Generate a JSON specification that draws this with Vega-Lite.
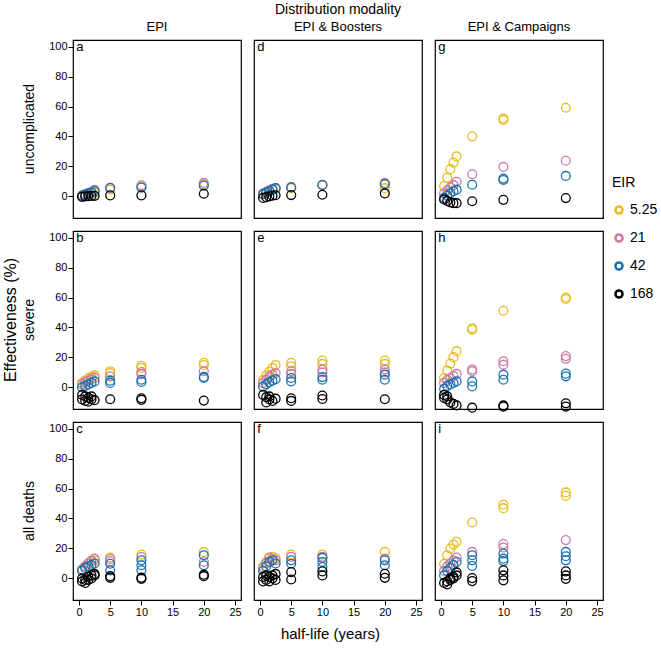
{
  "$schema": "https://vega.github.io/schema/vega-lite/v6.json",
  "background": "white",
  "padding": {"left": 2, "top": 3, "right": 0, "bottom": 0},
  "bounds": "flush",
  "title": {"text": "half-life (years)", "orient": "bottom", "fontSize": 15, "fontWeight": "normal", "font": "Liberation Sans", "color": "black", "anchor": "middle", "offset": 10},
  "data": {"values": [
    {"m":"EPI","o":"uncomplicated","e":"5.25","h":0.5,"v":0.3},{"m":"EPI","o":"uncomplicated","e":"5.25","h":1,"v":0.8},{"m":"EPI","o":"uncomplicated","e":"5.25","h":1.5,"v":1.3},{"m":"EPI","o":"uncomplicated","e":"5.25","h":2,"v":1.8},{"m":"EPI","o":"uncomplicated","e":"5.25","h":2.5,"v":2.3},{"m":"EPI","o":"uncomplicated","e":"5.25","h":5,"v":4.5},{"m":"EPI","o":"uncomplicated","e":"5.25","h":10,"v":6.5},{"m":"EPI","o":"uncomplicated","e":"5.25","h":20,"v":8},
    {"m":"EPI","o":"uncomplicated","e":"21","h":0.5,"v":0.8},{"m":"EPI","o":"uncomplicated","e":"21","h":1,"v":1.5},{"m":"EPI","o":"uncomplicated","e":"21","h":1.5,"v":2.3},{"m":"EPI","o":"uncomplicated","e":"21","h":2,"v":3},{"m":"EPI","o":"uncomplicated","e":"21","h":2.5,"v":4.4},{"m":"EPI","o":"uncomplicated","e":"21","h":5,"v":5.5},{"m":"EPI","o":"uncomplicated","e":"21","h":10,"v":7.4},{"m":"EPI","o":"uncomplicated","e":"21","h":20,"v":9},
    {"m":"EPI","o":"uncomplicated","e":"42","h":0.5,"v":0.5},{"m":"EPI","o":"uncomplicated","e":"42","h":1,"v":1.2},{"m":"EPI","o":"uncomplicated","e":"42","h":1.5,"v":2},{"m":"EPI","o":"uncomplicated","e":"42","h":2,"v":2.5},{"m":"EPI","o":"uncomplicated","e":"42","h":2.5,"v":3.5},{"m":"EPI","o":"uncomplicated","e":"42","h":5,"v":5.8},{"m":"EPI","o":"uncomplicated","e":"42","h":10,"v":5.9},{"m":"EPI","o":"uncomplicated","e":"42","h":20,"v":7.2},
    {"m":"EPI","o":"uncomplicated","e":"168","h":0.5,"v":-0.3},{"m":"EPI","o":"uncomplicated","e":"168","h":1,"v":0},{"m":"EPI","o":"uncomplicated","e":"168","h":1.5,"v":0.2},{"m":"EPI","o":"uncomplicated","e":"168","h":2,"v":0.3},{"m":"EPI","o":"uncomplicated","e":"168","h":2.5,"v":0.4},{"m":"EPI","o":"uncomplicated","e":"168","h":5,"v":0.7},{"m":"EPI","o":"uncomplicated","e":"168","h":10,"v":0.7},{"m":"EPI","o":"uncomplicated","e":"168","h":20,"v":1.8},

    {"m":"EPI & Boosters","o":"uncomplicated","e":"5.25","h":0.5,"v":1.5},{"m":"EPI & Boosters","o":"uncomplicated","e":"5.25","h":1,"v":2.5},{"m":"EPI & Boosters","o":"uncomplicated","e":"5.25","h":1.5,"v":3.5},{"m":"EPI & Boosters","o":"uncomplicated","e":"5.25","h":2,"v":4.5},{"m":"EPI & Boosters","o":"uncomplicated","e":"5.25","h":2.5,"v":5},{"m":"EPI & Boosters","o":"uncomplicated","e":"5.25","h":5,"v":5.5},{"m":"EPI & Boosters","o":"uncomplicated","e":"5.25","h":10,"v":7.5},{"m":"EPI & Boosters","o":"uncomplicated","e":"5.25","h":20,"v":5.5},{"m":"EPI & Boosters","o":"uncomplicated","e":"5.25","h":20,"v":8},
    {"m":"EPI & Boosters","o":"uncomplicated","e":"21","h":0.5,"v":2},{"m":"EPI & Boosters","o":"uncomplicated","e":"21","h":1,"v":3},{"m":"EPI & Boosters","o":"uncomplicated","e":"21","h":1.5,"v":4},{"m":"EPI & Boosters","o":"uncomplicated","e":"21","h":2,"v":5},{"m":"EPI & Boosters","o":"uncomplicated","e":"21","h":2.5,"v":5.5},{"m":"EPI & Boosters","o":"uncomplicated","e":"21","h":5,"v":6.2},{"m":"EPI & Boosters","o":"uncomplicated","e":"21","h":10,"v":7.8},{"m":"EPI & Boosters","o":"uncomplicated","e":"21","h":20,"v":9},
    {"m":"EPI & Boosters","o":"uncomplicated","e":"42","h":0.5,"v":1.5},{"m":"EPI & Boosters","o":"uncomplicated","e":"42","h":1,"v":2.5},{"m":"EPI & Boosters","o":"uncomplicated","e":"42","h":1.5,"v":3.5},{"m":"EPI & Boosters","o":"uncomplicated","e":"42","h":2,"v":4.5},{"m":"EPI & Boosters","o":"uncomplicated","e":"42","h":2.5,"v":5.5},{"m":"EPI & Boosters","o":"uncomplicated","e":"42","h":5,"v":6},{"m":"EPI & Boosters","o":"uncomplicated","e":"42","h":10,"v":7.6},{"m":"EPI & Boosters","o":"uncomplicated","e":"42","h":20,"v":8.3},
    {"m":"EPI & Boosters","o":"uncomplicated","e":"168","h":0.5,"v":-1},{"m":"EPI & Boosters","o":"uncomplicated","e":"168","h":1,"v":-0.5},{"m":"EPI & Boosters","o":"uncomplicated","e":"168","h":1.5,"v":0},{"m":"EPI & Boosters","o":"uncomplicated","e":"168","h":2,"v":0.5},{"m":"EPI & Boosters","o":"uncomplicated","e":"168","h":2.5,"v":0.8},{"m":"EPI & Boosters","o":"uncomplicated","e":"168","h":5,"v":0.9},{"m":"EPI & Boosters","o":"uncomplicated","e":"168","h":10,"v":1.1},{"m":"EPI & Boosters","o":"uncomplicated","e":"168","h":20,"v":2},

    {"m":"EPI & Campaigns","o":"uncomplicated","e":"5.25","h":0.5,"v":6.9},{"m":"EPI & Campaigns","o":"uncomplicated","e":"5.25","h":1,"v":12.5},{"m":"EPI & Campaigns","o":"uncomplicated","e":"5.25","h":1.5,"v":18.2},{"m":"EPI & Campaigns","o":"uncomplicated","e":"5.25","h":2,"v":22.6},{"m":"EPI & Campaigns","o":"uncomplicated","e":"5.25","h":2.5,"v":26.7},{"m":"EPI & Campaigns","o":"uncomplicated","e":"5.25","h":5,"v":40.1},{"m":"EPI & Campaigns","o":"uncomplicated","e":"5.25","h":10,"v":51},{"m":"EPI & Campaigns","o":"uncomplicated","e":"5.25","h":10,"v":52},{"m":"EPI & Campaigns","o":"uncomplicated","e":"5.25","h":20,"v":59.2},
    {"m":"EPI & Campaigns","o":"uncomplicated","e":"21","h":0.5,"v":2},{"m":"EPI & Campaigns","o":"uncomplicated","e":"21","h":1,"v":4},{"m":"EPI & Campaigns","o":"uncomplicated","e":"21","h":1.5,"v":6},{"m":"EPI & Campaigns","o":"uncomplicated","e":"21","h":2,"v":7.5},{"m":"EPI & Campaigns","o":"uncomplicated","e":"21","h":2.5,"v":9.8},{"m":"EPI & Campaigns","o":"uncomplicated","e":"21","h":5,"v":14.8},{"m":"EPI & Campaigns","o":"uncomplicated","e":"21","h":10,"v":19.7},{"m":"EPI & Campaigns","o":"uncomplicated","e":"21","h":20,"v":23.8},
    {"m":"EPI & Campaigns","o":"uncomplicated","e":"42","h":0.5,"v":-1},{"m":"EPI & Campaigns","o":"uncomplicated","e":"42","h":1,"v":0.5},{"m":"EPI & Campaigns","o":"uncomplicated","e":"42","h":1.5,"v":2},{"m":"EPI & Campaigns","o":"uncomplicated","e":"42","h":2,"v":3.5},{"m":"EPI & Campaigns","o":"uncomplicated","e":"42","h":2.5,"v":4.5},{"m":"EPI & Campaigns","o":"uncomplicated","e":"42","h":5,"v":7.8},{"m":"EPI & Campaigns","o":"uncomplicated","e":"42","h":10,"v":11},{"m":"EPI & Campaigns","o":"uncomplicated","e":"42","h":10,"v":11.9},{"m":"EPI & Campaigns","o":"uncomplicated","e":"42","h":20,"v":13.7},
    {"m":"EPI & Campaigns","o":"uncomplicated","e":"168","h":0.5,"v":-2},{"m":"EPI & Campaigns","o":"uncomplicated","e":"168","h":1,"v":-3},{"m":"EPI & Campaigns","o":"uncomplicated","e":"168","h":1.5,"v":-4},{"m":"EPI & Campaigns","o":"uncomplicated","e":"168","h":2,"v":-4.5},{"m":"EPI & Campaigns","o":"uncomplicated","e":"168","h":2.5,"v":-4.5},{"m":"EPI & Campaigns","o":"uncomplicated","e":"168","h":5,"v":-3.2},{"m":"EPI & Campaigns","o":"uncomplicated","e":"168","h":10,"v":-2.3},{"m":"EPI & Campaigns","o":"uncomplicated","e":"168","h":20,"v":-1.1},

    {"m":"EPI","o":"severe","e":"5.25","h":0.5,"v":3},{"m":"EPI","o":"severe","e":"5.25","h":1,"v":4.5},{"m":"EPI","o":"severe","e":"5.25","h":1.5,"v":6},{"m":"EPI","o":"severe","e":"5.25","h":2,"v":7},{"m":"EPI","o":"severe","e":"5.25","h":2.5,"v":8},{"m":"EPI","o":"severe","e":"5.25","h":5,"v":9.5},{"m":"EPI","o":"severe","e":"5.25","h":5,"v":10.8},{"m":"EPI","o":"severe","e":"5.25","h":10,"v":13},{"m":"EPI","o":"severe","e":"5.25","h":10,"v":14.5},{"m":"EPI","o":"severe","e":"5.25","h":20,"v":15},{"m":"EPI","o":"severe","e":"5.25","h":20,"v":16.4},
    {"m":"EPI","o":"severe","e":"21","h":0.5,"v":2},{"m":"EPI","o":"severe","e":"21","h":1,"v":3.5},{"m":"EPI","o":"severe","e":"21","h":1.5,"v":4.5},{"m":"EPI","o":"severe","e":"21","h":2,"v":5.5},{"m":"EPI","o":"severe","e":"21","h":2.5,"v":6.5},{"m":"EPI","o":"severe","e":"21","h":5,"v":7.4},{"m":"EPI","o":"severe","e":"21","h":10,"v":9},{"m":"EPI","o":"severe","e":"21","h":10,"v":10.3},{"m":"EPI","o":"severe","e":"21","h":20,"v":10.8},
    {"m":"EPI","o":"severe","e":"42","h":0.5,"v":0},{"m":"EPI","o":"severe","e":"42","h":1,"v":1},{"m":"EPI","o":"severe","e":"42","h":1.5,"v":2},{"m":"EPI","o":"severe","e":"42","h":2,"v":3},{"m":"EPI","o":"severe","e":"42","h":2.5,"v":4},{"m":"EPI","o":"severe","e":"42","h":5,"v":3},{"m":"EPI","o":"severe","e":"42","h":5,"v":4.5},{"m":"EPI","o":"severe","e":"42","h":10,"v":3.6},{"m":"EPI","o":"severe","e":"42","h":10,"v":5.1},{"m":"EPI","o":"severe","e":"42","h":20,"v":6.3},{"m":"EPI","o":"severe","e":"42","h":20,"v":7},
    {"m":"EPI","o":"severe","e":"168","h":0.5,"v":-5},{"m":"EPI","o":"severe","e":"168","h":1,"v":-6},{"m":"EPI","o":"severe","e":"168","h":1.5,"v":-7},{"m":"EPI","o":"severe","e":"168","h":2,"v":-8},{"m":"EPI","o":"severe","e":"168","h":2.5,"v":-8.5},{"m":"EPI","o":"severe","e":"168","h":0.5,"v":-8},{"m":"EPI","o":"severe","e":"168","h":1,"v":-9},{"m":"EPI","o":"severe","e":"168","h":1.5,"v":-9.5},{"m":"EPI","o":"severe","e":"168","h":2,"v":-6},{"m":"EPI","o":"severe","e":"168","h":5,"v":-7.9},{"m":"EPI","o":"severe","e":"168","h":10,"v":-7.2},{"m":"EPI","o":"severe","e":"168","h":10,"v":-8.3},{"m":"EPI","o":"severe","e":"168","h":20,"v":-8.8},

    {"m":"EPI & Boosters","o":"severe","e":"5.25","h":0.5,"v":5},{"m":"EPI & Boosters","o":"severe","e":"5.25","h":1,"v":8},{"m":"EPI & Boosters","o":"severe","e":"5.25","h":1.5,"v":10.5},{"m":"EPI & Boosters","o":"severe","e":"5.25","h":2,"v":13},{"m":"EPI & Boosters","o":"severe","e":"5.25","h":2.5,"v":15},{"m":"EPI & Boosters","o":"severe","e":"5.25","h":5,"v":14.1},{"m":"EPI & Boosters","o":"severe","e":"5.25","h":5,"v":16.4},{"m":"EPI & Boosters","o":"severe","e":"5.25","h":10,"v":15.7},{"m":"EPI & Boosters","o":"severe","e":"5.25","h":10,"v":17.9},{"m":"EPI & Boosters","o":"severe","e":"5.25","h":20,"v":15.7},{"m":"EPI & Boosters","o":"severe","e":"5.25","h":20,"v":17.9},
    {"m":"EPI & Boosters","o":"severe","e":"21","h":0.5,"v":3},{"m":"EPI & Boosters","o":"severe","e":"21","h":1,"v":5},{"m":"EPI & Boosters","o":"severe","e":"21","h":1.5,"v":7},{"m":"EPI & Boosters","o":"severe","e":"21","h":2,"v":8.5},{"m":"EPI & Boosters","o":"severe","e":"21","h":2.5,"v":9.5},{"m":"EPI & Boosters","o":"severe","e":"21","h":5,"v":9},{"m":"EPI & Boosters","o":"severe","e":"21","h":5,"v":10.8},{"m":"EPI & Boosters","o":"severe","e":"21","h":10,"v":10},{"m":"EPI & Boosters","o":"severe","e":"21","h":10,"v":11.9},{"m":"EPI & Boosters","o":"severe","e":"21","h":20,"v":10},{"m":"EPI & Boosters","o":"severe","e":"21","h":20,"v":11.9},
    {"m":"EPI & Boosters","o":"severe","e":"42","h":0.5,"v":0.5},{"m":"EPI & Boosters","o":"severe","e":"42","h":1,"v":2},{"m":"EPI & Boosters","o":"severe","e":"42","h":1.5,"v":3.5},{"m":"EPI & Boosters","o":"severe","e":"42","h":2,"v":4.5},{"m":"EPI & Boosters","o":"severe","e":"42","h":2.5,"v":5.5},{"m":"EPI & Boosters","o":"severe","e":"42","h":5,"v":4},{"m":"EPI & Boosters","o":"severe","e":"42","h":5,"v":6.3},{"m":"EPI & Boosters","o":"severe","e":"42","h":10,"v":5.1},{"m":"EPI & Boosters","o":"severe","e":"42","h":10,"v":6.9},{"m":"EPI & Boosters","o":"severe","e":"42","h":20,"v":5.1},{"m":"EPI & Boosters","o":"severe","e":"42","h":20,"v":8.5},
    {"m":"EPI & Boosters","o":"severe","e":"168","h":0.5,"v":-5},{"m":"EPI & Boosters","o":"severe","e":"168","h":1,"v":-6.5},{"m":"EPI & Boosters","o":"severe","e":"168","h":1.5,"v":-8},{"m":"EPI & Boosters","o":"severe","e":"168","h":2,"v":-9},{"m":"EPI & Boosters","o":"severe","e":"168","h":2.5,"v":-7.5},{"m":"EPI & Boosters","o":"severe","e":"168","h":1,"v":-10},{"m":"EPI & Boosters","o":"severe","e":"168","h":1.5,"v":-6},{"m":"EPI & Boosters","o":"severe","e":"168","h":5,"v":-7.2},{"m":"EPI & Boosters","o":"severe","e":"168","h":5,"v":-9},{"m":"EPI & Boosters","o":"severe","e":"168","h":10,"v":-5.4},{"m":"EPI & Boosters","o":"severe","e":"168","h":10,"v":-7.7},{"m":"EPI & Boosters","o":"severe","e":"168","h":20,"v":-7.9},

    {"m":"EPI & Campaigns","o":"severe","e":"5.25","h":0.5,"v":6.3},{"m":"EPI & Campaigns","o":"severe","e":"5.25","h":1,"v":11.2},{"m":"EPI & Campaigns","o":"severe","e":"5.25","h":1.5,"v":15.9},{"m":"EPI & Campaigns","o":"severe","e":"5.25","h":2,"v":20.2},{"m":"EPI & Campaigns","o":"severe","e":"5.25","h":2.5,"v":24.2},{"m":"EPI & Campaigns","o":"severe","e":"5.25","h":5,"v":38.6},{"m":"EPI & Campaigns","o":"severe","e":"5.25","h":5,"v":39.5},{"m":"EPI & Campaigns","o":"severe","e":"5.25","h":10,"v":51.2},{"m":"EPI & Campaigns","o":"severe","e":"5.25","h":20,"v":59},{"m":"EPI & Campaigns","o":"severe","e":"5.25","h":20,"v":60},
    {"m":"EPI & Campaigns","o":"severe","e":"21","h":0.5,"v":3},{"m":"EPI & Campaigns","o":"severe","e":"21","h":1,"v":5},{"m":"EPI & Campaigns","o":"severe","e":"21","h":1.5,"v":6},{"m":"EPI & Campaigns","o":"severe","e":"21","h":2,"v":7.5},{"m":"EPI & Campaigns","o":"severe","e":"21","h":2.5,"v":9},{"m":"EPI & Campaigns","o":"severe","e":"21","h":5,"v":10.8},{"m":"EPI & Campaigns","o":"severe","e":"21","h":5,"v":12},{"m":"EPI & Campaigns","o":"severe","e":"21","h":10,"v":15.2},{"m":"EPI & Campaigns","o":"severe","e":"21","h":10,"v":17.5},{"m":"EPI & Campaigns","o":"severe","e":"21","h":20,"v":19.1},{"m":"EPI & Campaigns","o":"severe","e":"21","h":20,"v":20.9},
    {"m":"EPI & Campaigns","o":"severe","e":"42","h":0.5,"v":-1},{"m":"EPI & Campaigns","o":"severe","e":"42","h":1,"v":1},{"m":"EPI & Campaigns","o":"severe","e":"42","h":1.5,"v":2},{"m":"EPI & Campaigns","o":"severe","e":"42","h":2,"v":3},{"m":"EPI & Campaigns","o":"severe","e":"42","h":2.5,"v":4},{"m":"EPI & Campaigns","o":"severe","e":"42","h":5,"v":0.7},{"m":"EPI & Campaigns","o":"severe","e":"42","h":5,"v":4},{"m":"EPI & Campaigns","o":"severe","e":"42","h":10,"v":5.1},{"m":"EPI & Campaigns","o":"severe","e":"42","h":10,"v":8.5},{"m":"EPI & Campaigns","o":"severe","e":"42","h":20,"v":7.4},{"m":"EPI & Campaigns","o":"severe","e":"42","h":20,"v":9.2},
    {"m":"EPI & Campaigns","o":"severe","e":"168","h":0.5,"v":-5},{"m":"EPI & Campaigns","o":"severe","e":"168","h":1,"v":-8},{"m":"EPI & Campaigns","o":"severe","e":"168","h":1.5,"v":-10},{"m":"EPI & Campaigns","o":"severe","e":"168","h":2,"v":-11},{"m":"EPI & Campaigns","o":"severe","e":"168","h":2.5,"v":-12},{"m":"EPI & Campaigns","o":"severe","e":"168","h":0.5,"v":-7},{"m":"EPI & Campaigns","o":"severe","e":"168","h":1,"v":-6},{"m":"EPI & Campaigns","o":"severe","e":"168","h":5,"v":-13.5},{"m":"EPI & Campaigns","o":"severe","e":"168","h":10,"v":-12},{"m":"EPI & Campaigns","o":"severe","e":"168","h":10,"v":-12.8},{"m":"EPI & Campaigns","o":"severe","e":"168","h":20,"v":-10.6},{"m":"EPI & Campaigns","o":"severe","e":"168","h":20,"v":-12.8},

    {"m":"EPI","o":"all deaths","e":"5.25","h":0.5,"v":6},{"m":"EPI","o":"all deaths","e":"5.25","h":1,"v":8},{"m":"EPI","o":"all deaths","e":"5.25","h":1.5,"v":10},{"m":"EPI","o":"all deaths","e":"5.25","h":2,"v":11},{"m":"EPI","o":"all deaths","e":"5.25","h":2.5,"v":12},{"m":"EPI","o":"all deaths","e":"5.25","h":5,"v":13.9},{"m":"EPI","o":"all deaths","e":"5.25","h":10,"v":15.9},{"m":"EPI","o":"all deaths","e":"5.25","h":20,"v":17.7},
    {"m":"EPI","o":"all deaths","e":"21","h":0.5,"v":6},{"m":"EPI","o":"all deaths","e":"21","h":1,"v":8},{"m":"EPI","o":"all deaths","e":"21","h":1.5,"v":10},{"m":"EPI","o":"all deaths","e":"21","h":2,"v":12},{"m":"EPI","o":"all deaths","e":"21","h":2.5,"v":13.2},{"m":"EPI","o":"all deaths","e":"21","h":5,"v":11.4},{"m":"EPI","o":"all deaths","e":"21","h":5,"v":13},{"m":"EPI","o":"all deaths","e":"21","h":10,"v":14.3},{"m":"EPI","o":"all deaths","e":"21","h":20,"v":11},
    {"m":"EPI","o":"all deaths","e":"42","h":0.5,"v":5},{"m":"EPI","o":"all deaths","e":"42","h":1,"v":7},{"m":"EPI","o":"all deaths","e":"42","h":1.5,"v":8},{"m":"EPI","o":"all deaths","e":"42","h":2,"v":9},{"m":"EPI","o":"all deaths","e":"42","h":2.5,"v":10},{"m":"EPI","o":"all deaths","e":"42","h":5,"v":5.4},{"m":"EPI","o":"all deaths","e":"42","h":5,"v":9.8},{"m":"EPI","o":"all deaths","e":"42","h":10,"v":5.4},{"m":"EPI","o":"all deaths","e":"42","h":10,"v":8.8},{"m":"EPI","o":"all deaths","e":"42","h":10,"v":12.1},{"m":"EPI","o":"all deaths","e":"42","h":20,"v":8.8},{"m":"EPI","o":"all deaths","e":"42","h":20,"v":15.5},
    {"m":"EPI","o":"all deaths","e":"168","h":0.5,"v":-2},{"m":"EPI","o":"all deaths","e":"168","h":1,"v":-3},{"m":"EPI","o":"all deaths","e":"168","h":1.5,"v":-1},{"m":"EPI","o":"all deaths","e":"168","h":2,"v":0},{"m":"EPI","o":"all deaths","e":"168","h":2.5,"v":2},{"m":"EPI","o":"all deaths","e":"168","h":0.5,"v":0},{"m":"EPI","o":"all deaths","e":"168","h":1,"v":-1},{"m":"EPI","o":"all deaths","e":"168","h":1.5,"v":1},{"m":"EPI","o":"all deaths","e":"168","h":2,"v":2},{"m":"EPI","o":"all deaths","e":"168","h":2.5,"v":3},{"m":"EPI","o":"all deaths","e":"168","h":5,"v":0.4},{"m":"EPI","o":"all deaths","e":"168","h":5,"v":1.5},{"m":"EPI","o":"all deaths","e":"168","h":10,"v":-0.3},{"m":"EPI","o":"all deaths","e":"168","h":10,"v":0.5},{"m":"EPI","o":"all deaths","e":"168","h":20,"v":1.5},{"m":"EPI","o":"all deaths","e":"168","h":20,"v":2.5},

    {"m":"EPI & Boosters","o":"all deaths","e":"5.25","h":0.5,"v":8},{"m":"EPI & Boosters","o":"all deaths","e":"5.25","h":1,"v":11},{"m":"EPI & Boosters","o":"all deaths","e":"5.25","h":1.5,"v":13.5},{"m":"EPI & Boosters","o":"all deaths","e":"5.25","h":2,"v":14.5},{"m":"EPI & Boosters","o":"all deaths","e":"5.25","h":2.5,"v":13.5},{"m":"EPI & Boosters","o":"all deaths","e":"5.25","h":5,"v":15.9},{"m":"EPI & Boosters","o":"all deaths","e":"5.25","h":10,"v":15.9},{"m":"EPI & Boosters","o":"all deaths","e":"5.25","h":20,"v":17.7},
    {"m":"EPI & Boosters","o":"all deaths","e":"21","h":0.5,"v":7},{"m":"EPI & Boosters","o":"all deaths","e":"21","h":1,"v":10},{"m":"EPI & Boosters","o":"all deaths","e":"21","h":1.5,"v":14},{"m":"EPI & Boosters","o":"all deaths","e":"21","h":2,"v":13},{"m":"EPI & Boosters","o":"all deaths","e":"21","h":2.5,"v":12},{"m":"EPI & Boosters","o":"all deaths","e":"21","h":5,"v":14.5},{"m":"EPI & Boosters","o":"all deaths","e":"21","h":10,"v":14.5},{"m":"EPI & Boosters","o":"all deaths","e":"21","h":20,"v":13.2},
    {"m":"EPI & Boosters","o":"all deaths","e":"42","h":0.5,"v":5},{"m":"EPI & Boosters","o":"all deaths","e":"42","h":1,"v":8},{"m":"EPI & Boosters","o":"all deaths","e":"42","h":1.5,"v":11},{"m":"EPI & Boosters","o":"all deaths","e":"42","h":2,"v":12},{"m":"EPI & Boosters","o":"all deaths","e":"42","h":2.5,"v":10},{"m":"EPI & Boosters","o":"all deaths","e":"42","h":5,"v":9.8},{"m":"EPI & Boosters","o":"all deaths","e":"42","h":5,"v":12.1},{"m":"EPI & Boosters","o":"all deaths","e":"42","h":10,"v":7.6},{"m":"EPI & Boosters","o":"all deaths","e":"42","h":10,"v":11},{"m":"EPI & Boosters","o":"all deaths","e":"42","h":10,"v":13.7},{"m":"EPI & Boosters","o":"all deaths","e":"42","h":20,"v":8.8},{"m":"EPI & Boosters","o":"all deaths","e":"42","h":20,"v":12.1},
    {"m":"EPI & Boosters","o":"all deaths","e":"168","h":0.5,"v":-2},{"m":"EPI & Boosters","o":"all deaths","e":"168","h":1,"v":-1},{"m":"EPI & Boosters","o":"all deaths","e":"168","h":1.5,"v":1},{"m":"EPI & Boosters","o":"all deaths","e":"168","h":2,"v":2},{"m":"EPI & Boosters","o":"all deaths","e":"168","h":2.5,"v":3},{"m":"EPI & Boosters","o":"all deaths","e":"168","h":0.5,"v":1},{"m":"EPI & Boosters","o":"all deaths","e":"168","h":1,"v":2},{"m":"EPI & Boosters","o":"all deaths","e":"168","h":1.5,"v":-2},{"m":"EPI & Boosters","o":"all deaths","e":"168","h":2,"v":0},{"m":"EPI & Boosters","o":"all deaths","e":"168","h":2.5,"v":-1},{"m":"EPI & Boosters","o":"all deaths","e":"168","h":5,"v":-0.7},{"m":"EPI & Boosters","o":"all deaths","e":"168","h":5,"v":4.2},{"m":"EPI & Boosters","o":"all deaths","e":"168","h":10,"v":2},{"m":"EPI & Boosters","o":"all deaths","e":"168","h":10,"v":4.7},{"m":"EPI & Boosters","o":"all deaths","e":"168","h":20,"v":0.4},{"m":"EPI & Boosters","o":"all deaths","e":"168","h":20,"v":3.1},

    {"m":"EPI & Campaigns","o":"all deaths","e":"5.25","h":0.5,"v":9.8},{"m":"EPI & Campaigns","o":"all deaths","e":"5.25","h":1,"v":15.5},{"m":"EPI & Campaigns","o":"all deaths","e":"5.25","h":1.5,"v":19.9},{"m":"EPI & Campaigns","o":"all deaths","e":"5.25","h":2,"v":22.6},{"m":"EPI & Campaigns","o":"all deaths","e":"5.25","h":2.5,"v":24.4},{"m":"EPI & Campaigns","o":"all deaths","e":"5.25","h":5,"v":37.4},{"m":"EPI & Campaigns","o":"all deaths","e":"5.25","h":10,"v":46.9},{"m":"EPI & Campaigns","o":"all deaths","e":"5.25","h":10,"v":49.2},{"m":"EPI & Campaigns","o":"all deaths","e":"5.25","h":20,"v":55.2},{"m":"EPI & Campaigns","o":"all deaths","e":"5.25","h":20,"v":57.4},
    {"m":"EPI & Campaigns","o":"all deaths","e":"21","h":0.5,"v":5},{"m":"EPI & Campaigns","o":"all deaths","e":"21","h":1,"v":8},{"m":"EPI & Campaigns","o":"all deaths","e":"21","h":1.5,"v":10},{"m":"EPI & Campaigns","o":"all deaths","e":"21","h":2,"v":12},{"m":"EPI & Campaigns","o":"all deaths","e":"21","h":2.5,"v":14},{"m":"EPI & Campaigns","o":"all deaths","e":"21","h":5,"v":17.7},{"m":"EPI & Campaigns","o":"all deaths","e":"21","h":10,"v":20.6},{"m":"EPI & Campaigns","o":"all deaths","e":"21","h":10,"v":22.9},{"m":"EPI & Campaigns","o":"all deaths","e":"21","h":20,"v":25.6},
    {"m":"EPI & Campaigns","o":"all deaths","e":"42","h":0.5,"v":2},{"m":"EPI & Campaigns","o":"all deaths","e":"42","h":1,"v":5},{"m":"EPI & Campaigns","o":"all deaths","e":"42","h":1.5,"v":7},{"m":"EPI & Campaigns","o":"all deaths","e":"42","h":2,"v":9},{"m":"EPI & Campaigns","o":"all deaths","e":"42","h":2.5,"v":11},{"m":"EPI & Campaigns","o":"all deaths","e":"42","h":5,"v":8.3},{"m":"EPI & Campaigns","o":"all deaths","e":"42","h":5,"v":12.1},{"m":"EPI & Campaigns","o":"all deaths","e":"42","h":5,"v":15.5},{"m":"EPI & Campaigns","o":"all deaths","e":"42","h":10,"v":11.6},{"m":"EPI & Campaigns","o":"all deaths","e":"42","h":10,"v":13.2},{"m":"EPI & Campaigns","o":"all deaths","e":"42","h":10,"v":16.6},{"m":"EPI & Campaigns","o":"all deaths","e":"42","h":20,"v":12.1},{"m":"EPI & Campaigns","o":"all deaths","e":"42","h":20,"v":14.8},{"m":"EPI & Campaigns","o":"all deaths","e":"42","h":20,"v":17.7},
    {"m":"EPI & Campaigns","o":"all deaths","e":"168","h":0.5,"v":-3},{"m":"EPI & Campaigns","o":"all deaths","e":"168","h":1,"v":-2},{"m":"EPI & Campaigns","o":"all deaths","e":"168","h":1.5,"v":0},{"m":"EPI & Campaigns","o":"all deaths","e":"168","h":2,"v":1},{"m":"EPI & Campaigns","o":"all deaths","e":"168","h":2.5,"v":2},{"m":"EPI & Campaigns","o":"all deaths","e":"168","h":1,"v":-4},{"m":"EPI & Campaigns","o":"all deaths","e":"168","h":1.5,"v":-1},{"m":"EPI & Campaigns","o":"all deaths","e":"168","h":2,"v":0},{"m":"EPI & Campaigns","o":"all deaths","e":"168","h":2.5,"v":4},{"m":"EPI & Campaigns","o":"all deaths","e":"168","h":5,"v":-1.8},{"m":"EPI & Campaigns","o":"all deaths","e":"168","h":5,"v":0.2},{"m":"EPI & Campaigns","o":"all deaths","e":"168","h":10,"v":-1.3},{"m":"EPI & Campaigns","o":"all deaths","e":"168","h":10,"v":2},{"m":"EPI & Campaigns","o":"all deaths","e":"168","h":10,"v":5.4},{"m":"EPI & Campaigns","o":"all deaths","e":"168","h":20,"v":-0.3},{"m":"EPI & Campaigns","o":"all deaths","e":"168","h":20,"v":2},{"m":"EPI & Campaigns","o":"all deaths","e":"168","h":20,"v":4.7},

    {"m":"EPI","o":"uncomplicated","l":"a"},{"m":"EPI","o":"severe","l":"b"},{"m":"EPI","o":"all deaths","l":"c"},
    {"m":"EPI & Boosters","o":"uncomplicated","l":"d"},{"m":"EPI & Boosters","o":"severe","l":"e"},{"m":"EPI & Boosters","o":"all deaths","l":"f"},
    {"m":"EPI & Campaigns","o":"uncomplicated","l":"g"},{"m":"EPI & Campaigns","o":"severe","l":"h"},{"m":"EPI & Campaigns","o":"all deaths","l":"i"}
  ]},
  "facet": {
    "row": {"field": "o", "type": "nominal", "sort": ["uncomplicated", "severe", "all deaths"],
      "header": {"title": "Effectiveness (%)", "titleFontSize": 16, "titleFontWeight": "normal", "titleColor": "black", "titlePadding": -7, "labelFontSize": 14, "labelColor": "black", "labelAngle": -90, "labelOrient": "left", "labelPadding": 5}},
    "column": {"field": "m", "type": "nominal", "sort": ["EPI", "EPI & Boosters", "EPI & Campaigns"],
      "header": {"title": "Distribution modality", "titleFontSize": 14, "titleFontWeight": "normal", "titleColor": "black", "titlePadding": -6, "labelFontSize": 13, "labelColor": "black", "labelPadding": 6}}
  },
  "spacing": {"row": 13, "column": 13},
  "spec": {
    "width": 168,
    "height": 178,
    "layer": [
      {
        "transform": [{"filter": "datum.e != null"}],
        "mark": {"type": "point", "shape": "circle", "filled": false, "size": 78, "strokeWidth": 1.3, "opacity": 1},
        "encoding": {
          "x": {"field": "h", "type": "quantitative", "scale": {"domain": [-0.96, 25.96], "nice": false, "zero": false}, "axis": {"values": [0, 5, 10, 15, 20, 25], "tickCount": 6, "title": null, "labelOverlap": false, "labelFlush": false}},
          "y": {"field": "v", "type": "quantitative", "scale": {"domain": [-14.4, 104.4], "nice": false, "zero": false}, "axis": {"values": [0, 20, 40, 60, 80, 100], "tickCount": 6, "title": null, "labelOverlap": false, "labelFlush": false}},
          "color": {"field": "e", "type": "nominal", "sort": ["5.25", "21", "42", "168"],
            "scale": {"domain": ["5.25", "21", "42", "168"], "range": ["#E7BC1C", "#CC79A7", "#1A73AE", "#000000"]},
            "legend": {"title": "EIR", "orient": "none", "legendX": 539, "legendY": 136, "titleFontSize": 14, "titleFontWeight": "normal", "titleColor": "black", "labelFontSize": 14, "labelColor": "black", "symbolStrokeWidth": 2.5, "symbolSize": 50, "rowPadding": 10, "titlePadding": 13, "labelOffset": 4}}
        }
      },
      {
        "transform": [{"filter": "datum.l != null"}],
        "mark": {"type": "text", "align": "left", "baseline": "middle", "fontSize": 13, "color": "black"},
        "encoding": {
          "x": {"datum": -0.45, "type": "quantitative", "axis": {"values": [0, 5, 10, 15, 20, 25], "tickCount": 6, "title": null, "labelOverlap": false, "labelFlush": false}},
          "y": {"datum": 100, "type": "quantitative", "axis": {"values": [0, 20, 40, 60, 80, 100], "tickCount": 6, "title": null, "labelOverlap": false, "labelFlush": false}},
          "text": {"field": "l", "type": "nominal"}
        }
      }
    ]
  },
  "config": {
    "font": "Liberation Sans",
    "view": {"stroke": "black", "strokeWidth": 1.2},
    "axis": {"grid": false, "domain": false, "tickColor": "black", "labelColor": "black", "labelFontSize": 11, "tickSize": 5, "labelPadding": 1, "labelFont": "Liberation Sans", "labelOverlap": false, "labelFlush": false, "labelBound": false},
    "axisY": {"minExtent": 0},
    "header": {"labelFont": "Liberation Sans", "titleFont": "Liberation Sans"},
    "legend": {"labelFont": "Liberation Sans", "titleFont": "Liberation Sans"}
  }
}
